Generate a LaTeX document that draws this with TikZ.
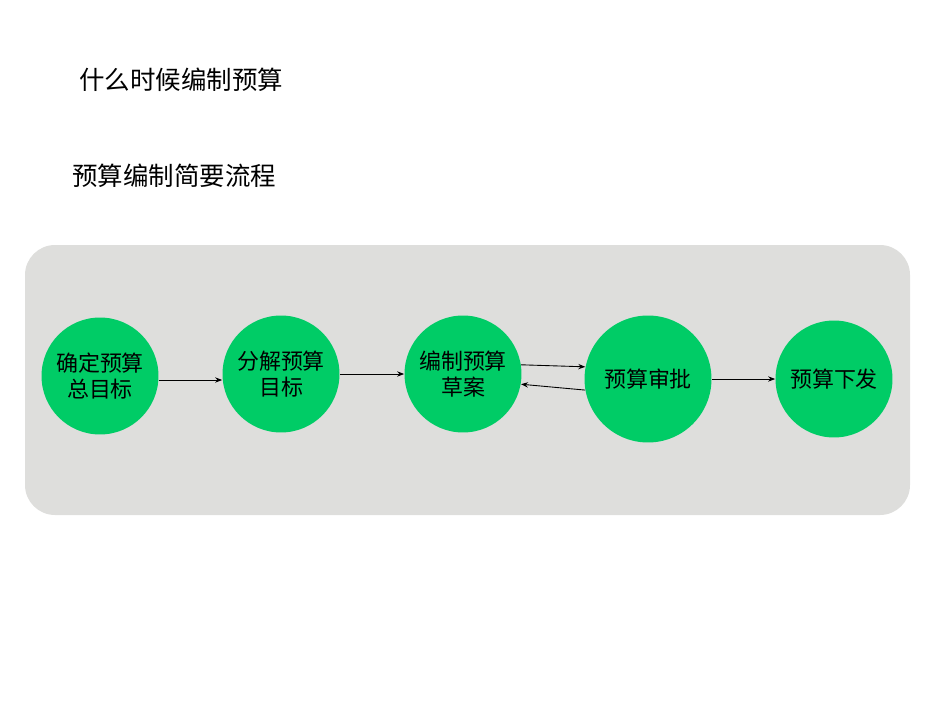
\documentclass[tikz,border=0pt]{standalone}
\usepackage{fontspec}
\setmainfont{Noto Sans CJK SC}
\usetikzlibrary{positioning,arrows.meta}
\definecolor{stepgreen}{RGB}{0,204,102}
\definecolor{panelgray}{RGB}{222,222,220}

\begin{document}
\begin{tikzpicture}[x=0.02cm,y=-0.02cm,
                    stepnode/.style={circle,fill=stepgreen,minimum size=2.34cm,inner sep=0pt,
                                     align=center,font=\fontsize{12.5}{15}\selectfont},
                    flow/.style={-{Stealth[length=4pt,width=3pt]},line width=0.5pt}]
  \useasboundingbox (0,0) rectangle (950,713);

  \node[anchor=west,font=\fontsize{14.5}{17}\selectfont] (t1) at (73,80) {什么时候编制预算};
  \node[anchor=west,font=\fontsize{14.5}{17}\selectfont] (t2) at (66,176) {预算编制简要流程};

  \fill[panelgray,rounded corners=0.6cm] (25,245) rectangle (910,515);

  \node[stepnode] (1) at (100,376) {确定预算\\总目标};
  \node[stepnode] (2) at (281,374) {分解预算\\目标};
  \node[stepnode] (3) at (463,374) {编制预算\\草案};
  \node[stepnode,minimum width=2.54cm] (4) at (648,379) {预算审批};
  \node[stepnode] (5) at (834,379) {预算下发};

  \draw[flow] (1.east) ++(0,4) coordinate (a1) -- (a1 -| 2.west);
  \draw[flow] (2) -- (3);
  \draw[flow] (3.9) -- (4.169);
  \draw[flow] (4.190) -- (3.350);
  \draw[flow] (4) -- (5);
\end{tikzpicture}
\end{document}
